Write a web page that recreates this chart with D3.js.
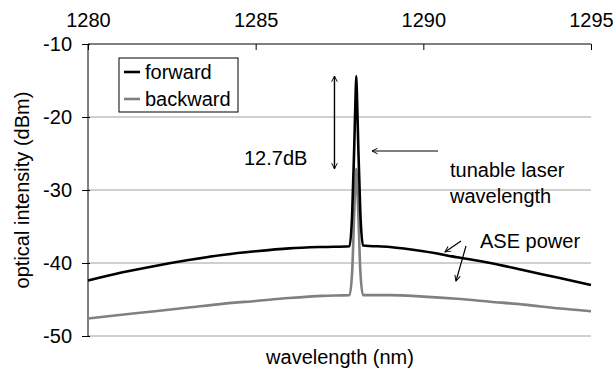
<!DOCTYPE html>
<html>
<head>
<meta charset="utf-8">
<script src="https://cdnjs.cloudflare.com/ajax/libs/d3/7.8.5/d3.min.js"></script>
<style>
  body { margin: 0; background: #fff; }
  text { font-family: "Liberation Sans", Arial, sans-serif; fill: #000; }
</style>
</head>
<body>
<div class="container"></div>
<script>
// data
var wavelength = [1280, 1281, 1282, 1283, 1284, 1285, 1286, 1287, 1287.8, 1287.88, 1287.94, 1287.98, 1288.0,
  1288.02, 1288.06, 1288.12, 1288.2, 1289, 1290, 1291, 1292, 1293, 1294, 1295];
var forward = [-42.4, -41.3, -40.4, -39.6, -38.9, -38.4, -38.0, -37.8, -37.7, -33, -24, -17, -14.4,
  -17, -24, -33, -37.6, -37.8, -38.4, -39.2, -40.0, -41.0, -42.0, -43.0];
var backward = [-47.6, -47.1, -46.6, -46.1, -45.6, -45.2, -44.8, -44.5, -44.4, -41, -33, -28.5, -27.1,
  -28.5, -33, -41, -44.4, -44.4, -44.6, -44.9, -45.3, -45.7, -46.2, -46.6];
var xTicks = [1280, 1285, 1290, 1295];
var yTicks = [-10, -20, -30, -40, -50];
var seriesNames = ["forward", "backward"];
var seriesColors = ["#000000", "#808080"];

var svgWidth = 613;
var svgHeight = 374;
var margin = { top: 44, right: 22, bottom: 38, left: 88 };
var width = svgWidth - margin.left - margin.right;
var height = svgHeight - margin.top - margin.bottom;
var fontSize = "20px";

var svg = d3.select(".container")
  .append("svg")
  .attr("width", svgWidth)
  .attr("height", svgHeight);

var chartGroup = svg.append("g")
  .attr("transform", `translate(${margin.left}, ${margin.top})`);

var xScale = d3.scaleLinear().domain([1280, 1295]).range([0, width]);
var yScale = d3.scaleLinear().domain([-50, -10]).range([height, 0]);

var defs = svg.append("defs");
defs.append("marker")
  .attr("id", "head")
  .attr("viewBox", "0 0 10 10")
  .attr("refX", 9).attr("refY", 5)
  .attr("markerWidth", 7).attr("markerHeight", 7)
  .attr("markerUnits", "userSpaceOnUse")
  .attr("orient", "auto-start-reverse")
  .append("path")
  .attr("d", "M1,1 L9,5 L1,9")
  .attr("fill", "none")
  .attr("stroke", "#000")
  .attr("stroke-width", 1.4);

// gridlines
chartGroup.append("g")
  .selectAll("line")
  .data(yTicks.filter(d => d !== -10))
  .enter()
  .append("line")
  .attr("x1", 0).attr("x2", width)
  .attr("y1", d => yScale(d)).attr("y2", d => yScale(d))
  .attr("stroke", "#a0a0a0")
  .attr("stroke-width", 1);

// top x axis
var topAxis = d3.axisTop(xScale).tickValues(xTicks).tickSize(-6).tickPadding(17).tickFormat(d3.format("d"));
var xAxis = chartGroup.append("g").call(topAxis);
xAxis.select(".domain").remove();
xAxis.append("line").attr("x1", 0).attr("x2", width).attr("stroke", "#000");
xAxis.selectAll("text").style("font-size", fontSize).attr("font-family", null);

// left y axis
var leftAxis = d3.axisLeft(yScale).tickValues(yTicks).tickSize(6).tickPadding(10).tickFormat(d3.format("d"));
var yAxis = chartGroup.append("g").call(leftAxis);
yAxis.select(".domain").attr("d", `M0,0V${height}`);
yAxis.selectAll("text").style("font-size", fontSize).attr("font-family", null).text(d => d < 0 ? "-" + Math.abs(d) : d);
yAxis.selectAll(".tick line").attr("x2", -6).attr("x1", 2);

// lines
var line = d3.line()
  .x((d, i) => xScale(wavelength[i]))
  .y(d => yScale(d))
  .curve(d3.curveMonotoneX);

chartGroup.append("path")
  .datum(backward)
  .attr("d", line)
  .attr("fill", "none")
  .attr("stroke", seriesColors[1])
  .attr("stroke-width", 2.6);

chartGroup.append("path")
  .datum(forward)
  .attr("d", line)
  .attr("fill", "none")
  .attr("stroke", seriesColors[0])
  .attr("stroke-width", 2.6);

// legend
var legend = svg.append("g").attr("transform", "translate(119, 58)");
legend.append("rect")
  .attr("width", 119).attr("height", 54)
  .attr("fill", "#fff").attr("stroke", "#000").attr("stroke-width", 1);
seriesNames.forEach(function(name, i) {
  legend.append("line")
    .attr("x1", 5).attr("x2", 21)
    .attr("y1", 14 + i * 27).attr("y2", 14 + i * 27)
    .attr("stroke", seriesColors[i]).attr("stroke-width", 2.6);
  legend.append("text")
    .attr("x", 26).attr("y", 14 + i * 27)
    .attr("dy", "0.35em")
    .style("font-size", fontSize)
    .text(name);
});

// annotations
var arrowX = xScale(1287.35);
chartGroup.append("line")
  .attr("x1", arrowX).attr("x2", arrowX)
  .attr("y1", yScale(-14.4)).attr("y2", yScale(-27.1))
  .attr("stroke", "#000").attr("stroke-width", 1.4)
  .attr("marker-start", "url(#head)").attr("marker-end", "url(#head)");

svg.append("text").attr("x", 244).attr("y", 165).style("font-size", fontSize).text("12.7dB");

svg.append("line")
  .attr("x1", 438).attr("y1", 151).attr("x2", 372).attr("y2", 151)
  .attr("stroke", "#000").attr("stroke-width", 1.2)
  .attr("marker-end", "url(#head)");
svg.append("text").attr("x", 450).attr("y", 177).style("font-size", fontSize).text("tunable laser");
svg.append("text").attr("x", 450).attr("y", 203).style("font-size", fontSize).text("wavelength");

svg.append("text").attr("x", 480).attr("y", 248).style("font-size", fontSize).text("ASE power");
svg.append("line")
  .attr("x1", 461).attr("y1", 241).attr("x2", 445).attr("y2", 252)
  .attr("stroke", "#000").attr("stroke-width", 1.2)
  .attr("marker-end", "url(#head)");
svg.append("line")
  .attr("x1", 466).attr("y1", 246).attr("x2", 456).attr("y2", 281)
  .attr("stroke", "#000").attr("stroke-width", 1.2)
  .attr("marker-end", "url(#head)");

// axis titles
svg.append("text")
  .attr("x", 340).attr("y", 364)
  .attr("text-anchor", "middle")
  .style("font-size", fontSize)
  .text("wavelength (nm)");

svg.append("text")
  .attr("transform", "translate(29, 190) rotate(-90)")
  .attr("text-anchor", "middle")
  .style("font-size", fontSize)
  .text("optical intensity (dBm)");
</script>
</body>
</html>
